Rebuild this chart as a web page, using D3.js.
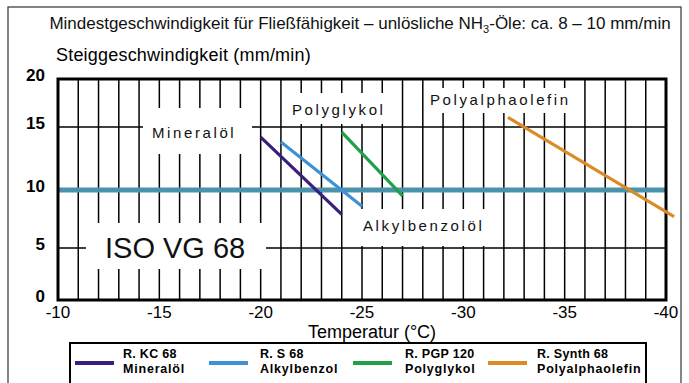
<!DOCTYPE html>
<html>
<head>
<meta charset="utf-8">
<script src="https://cdn.jsdelivr.net/npm/d3@7"></script>
<style>
  html, body { margin: 0; padding: 0; background: #fff; }
  svg { display: block; font-family: "Liberation Sans", Arial, sans-serif; }
</style>
</head>
<body>
<svg id="chart" width="689" height="383"></svg>
<script>
// ---- data ----
const xTicks = [-10, -15, -20, -25, -30, -35, -40];
const yTicks = [0, 5, 10, 15, 20];
const threshold = 10;
const seriesNames = ["Mineralöl", "Alkylbenzol", "Polyglykol", "Polyalphaolefin"];
const legendProducts = ["R. KC 68", "R. S 68", "R. PGP 120", "R. Synth 68"];
const mineralTemp = [-20, -24];
const mineralSpeed = [14.2, 7.9];
const alkylTemp = [-21, -25];
const alkylSpeed = [13.8, 8.6];
const glykolTemp = [-24, -27];
const glykolSpeed = [14.6, 9.5];
const paoTemp = [-32.2, -40.4];
const paoSpeed = [16, 7.7];

// ---- layout ----
const svg = d3.select("#chart");
const colors = ["#3a1e7c", "#3d92d6", "#20a048", "#dc8a26"];
const plot = { left: 58, right: 666, top: 79, bottom: 300 };

const x = d3.scaleLinear().domain([-10, -40]).range([plot.left, plot.right]);
// grid of the source drawing is slightly uneven: piecewise linear scale
const y = d3.scaleLinear().domain([0, 5, 10, 15, 20]).range([300, 248, 190, 127, 79]);

svg.append("rect").attr("width", 689).attr("height", 383).attr("fill", "#fff");
// outer frame
svg.append("rect").attr("x", 8).attr("y", 7).attr("width", 673).attr("height", 400)
  .attr("fill", "none").attr("stroke", "#333").attr("stroke-width", 1.2);

// title
const title = svg.append("text").attr("x", 360).attr("y", 29).attr("text-anchor", "middle")
  .attr("font-size", 17).attr("fill", "#111");
title.append("tspan").text("Mindestgeschwindigkeit für Fließfähigkeit – unlösliche NH");
title.append("tspan").attr("font-size", 11).attr("dy", 4).text("3");
title.append("tspan").attr("dy", -4).text("-Öle: ca. 8 – 10 mm/min");

// y-axis title
svg.append("text").attr("x", 56).attr("y", 61).attr("font-size", 18).attr("fill", "#000")
  .attr("letter-spacing", 0.2).text("Steiggeschwindigkeit (mm/min)");

// grid
const g = svg.append("g");
const minorX = d3.range(-11, -40, -1);
g.selectAll("line.vx").data(minorX).join("line")
  .attr("x1", d => x(d)).attr("x2", d => x(d))
  .attr("y1", plot.top).attr("y2", plot.bottom)
  .attr("stroke", "#000").attr("stroke-width", 1.5);
g.selectAll("line.hy").data([5, 15]).join("line")
  .attr("x1", plot.left).attr("x2", plot.right)
  .attr("y1", d => y(d)).attr("y2", d => y(d))
  .attr("stroke", "#000").attr("stroke-width", 1.5);

// threshold line
g.append("line").attr("x1", plot.left).attr("x2", plot.right)
  .attr("y1", y(threshold)).attr("y2", y(threshold))
  .attr("stroke", "#4a93ab").attr("stroke-width", 5);

// plot border
g.append("rect").attr("x", plot.left).attr("y", plot.top)
  .attr("width", plot.right - plot.left).attr("height", plot.bottom - plot.top)
  .attr("fill", "none").attr("stroke", "#000").attr("stroke-width", 3);

// label boxes (white) with text
const labels = [
  { t: "Mineralöl", box: [143, 108, 109, 46], tx: 152, ty: 138 },
  { t: "Polyglykol", box: [285, 93, 110, 31], tx: 292, ty: 115 },
  { t: "Polyalphaolefin", box: [425, 88, 150, 25], tx: 430, ty: 105 },
  { t: "Alkylbenzolöl", box: [352, 209, 150, 37], tx: 363, ty: 231 }
];
labels.forEach(l => {
  svg.append("rect").attr("x", l.box[0]).attr("y", l.box[1]).attr("width", l.box[2]).attr("height", l.box[3])
    .attr("fill", "#fff");
  svg.append("text").attr("x", l.tx).attr("y", l.ty).attr("font-size", 15)
    .attr("letter-spacing", 2.6).attr("fill", "#111").text(l.t);
});
svg.append("rect").attr("x", 86).attr("y", 223).attr("width", 180).attr("height", 46).attr("fill", "#fff");
svg.append("text").attr("x", 105).attr("y", 258).attr("font-size", 29).attr("fill", "#111").text("ISO VG 68");

// data lines
const series = [
  { temp: mineralTemp, speed: mineralSpeed },
  { temp: alkylTemp, speed: alkylSpeed },
  { temp: glykolTemp, speed: glykolSpeed },
  { temp: paoTemp, speed: paoSpeed }
];
const line = d3.line().x(d => x(d[0])).y(d => y(d[1]));
series.forEach((s, i) => {
  svg.append("path").attr("d", line(d3.zip(s.temp, s.speed)))
    .attr("fill", "none").attr("stroke", colors[i]).attr("stroke-width", 3.2);
});

// tick labels
svg.selectAll("text.xt").data(xTicks).join("text")
  .attr("x", d => x(d)).attr("y", 318).attr("text-anchor", "middle")
  .attr("font-size", 17).attr("fill", "#000").text(d => d);
svg.selectAll("text.yt").data(yTicks).join("text")
  .attr("x", 45).attr("y", d => y(d) + 2).attr("text-anchor", "end")
  .attr("font-size", 17).attr("font-weight", "bold").attr("fill", "#000").text(d => d);

// x-axis title
svg.append("text").attr("x", 372).attr("y", 338).attr("text-anchor", "middle")
  .attr("font-size", 18).attr("fill", "#000").text("Temperatur (°C)");

// legend
svg.append("rect").attr("x", 70).attr("y", 343).attr("width", 576).attr("height", 60)
  .attr("fill", "#fff").attr("stroke", "#000").attr("stroke-width", 2);
const legX = [75, 209, 353, 488];
const legTextX = [123, 260, 405, 537];
seriesNames.forEach((n, i) => {
  svg.append("line").attr("x1", legX[i]).attr("x2", legX[i] + 39).attr("y1", 363).attr("y2", 363)
    .attr("stroke", colors[i]).attr("stroke-width", 4);
  svg.append("text").attr("x", legTextX[i]).attr("y", 358).attr("font-size", 12.5)
    .attr("font-weight", "bold").attr("letter-spacing", 0.3).attr("fill", "#000").text(legendProducts[i]);
  svg.append("text").attr("x", legTextX[i]).attr("y", 373).attr("font-size", 12.5)
    .attr("font-weight", "bold").attr("letter-spacing", 0.8).attr("fill", "#000")
    .text(n);
});
</script>
</body>
</html>
